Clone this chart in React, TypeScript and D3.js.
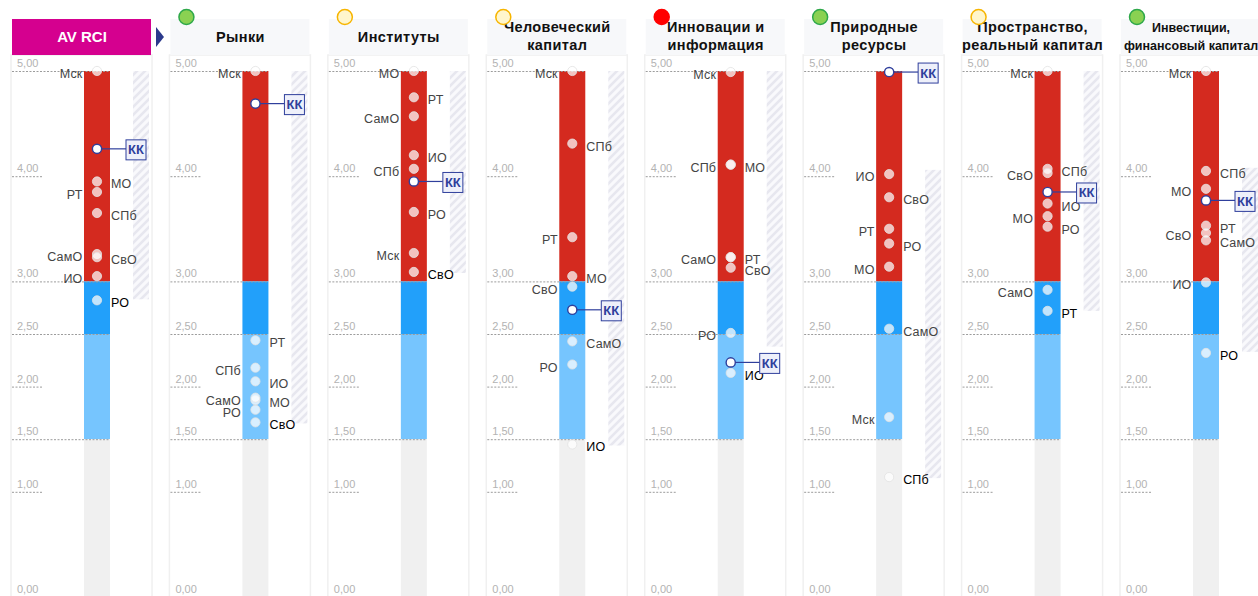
import React from "react";
import * as d3 from "d3";

// ---------- data ----------
const regionNames = ["Мск", "СПб", "МО", "РТ", "СамО", "СвО", "ИО", "РО"];

const avRci = [5.0, 3.65, 3.95, 3.85, 3.26, 3.23, 3.05, 2.82];
const markets = [5.0, 2.18, 1.87, 2.44, 1.895, 1.66, 2.05, 1.78];
const institutions = [3.27, 4.07, 5.0, 4.75, 4.57, 3.09, 4.2, 3.66];
const humanCapital = [5.0, 4.31, 3.05, 3.42, 2.43, 2.95, 1.45, 2.21];
const innovation = [4.99, 4.11, 4.11, 3.23, 3.23, 3.13, 2.13, 2.51];
const naturalRes = [1.71, 1.14, 3.14, 3.5, 2.55, 3.8, 4.02, 3.36];
const spaceCapital = [5.0, 4.07, 3.62, 2.72, 2.92, 4.03, 3.74, 3.52];
const investment = [5.0, 4.05, 3.88, 3.53, 3.39, 3.46, 2.99, 2.32];

const kkValues = [4.26, 4.69, 3.95, 2.73, 2.23, 4.99, 3.85, 3.77];
const kkLabel = "КК";

const panelTitles = [
  ["AV RCI"],
  ["Рынки"],
  ["Институты"],
  ["Человеческий", "капитал"],
  ["Инновации и", "информация"],
  ["Природные", "ресурсы"],
  ["Пространство,", "реальный капитал"],
  ["Инвестиции,", "финансовый капитал"],
];
const panelStatus = [null, "green", "yellow", "yellow", "red", "green", "yellow", "green"];

const rangeTop = [5.0, 5.0, 5.0, 5.0, 5.0, 4.06, 5.0, 4.08];
const rangeBottom = [2.83, 1.65, 3.08, 1.44, 2.38, 1.13, 2.72, 2.33];

const tickValues = [5, 4, 3, 2.5, 2, 1.5, 1, 0];
const bandEdges = [5, 3, 2.5, 1.5, 0];

// label side per panel (layout), same order as regionNames
const labelSides = [
  ["l", "r", "r", "l", "l", "r", "l", "r"],
  ["l", "l", "r", "r", "l", "r", "r", "l"],
  ["l", "l", "l", "r", "l", "r", "r", "r"],
  ["l", "r", "r", "l", "r", "l", "r", "l"],
  ["l", "l", "r", "r", "l", "r", "r", "l"],
  ["l", "r", "l", "l", "r", "r", "l", "r"],
  ["l", "r", "l", "r", "l", "l", "r", "r"],
  ["l", "r", "l", "r", "r", "l", "l", "r"],
];

const panelValues = [avRci, markets, institutions, humanCapital, innovation, naturalRes, spaceCapital, investment];

// ---------- styles ----------
const bandColors = ["#d42a1f", "#22a0fa", "#76c5fe", "#f0f0f0"];
const statusStyle: Record<string, { fill: string; stroke: string }> = {
  green: { fill: "#8ad152", stroke: "#2ea84a" },
  yellow: { fill: "#fff6cc", stroke: "#f7b500" },
  red: { fill: "#ff0000", stroke: "#ff0000" },
};
const NAVY = "#2f3f9c";
const FONT = "'Liberation Sans', Arial, sans-serif";

export default function App() {
  const W = 1258;
  const H = 596;
  const y = d3.scaleLinear().domain([0, 5]).range([597, 71]);
  const px = d3.scaleLinear().domain([0, 7]).range([12, 1121]);
  const fmt = (v: number) => d3.format(".2f")(v).replace(".", ",");

  return (
    <svg
      width={W}
      height={H}
      style={{ position: "absolute", left: 0, top: 0, fontFamily: FONT, background: "#fff" }}
    >
      <defs>
        <pattern id="hatch" width="8" height="8" patternUnits="userSpaceOnUse">
          <rect width="8" height="8" fill="#f9f9fc" />
          <path d="M-2,2 l4,-4 M0,8 l8,-8 M6,10 l4,-4" stroke="#e7e7ef" strokeWidth="2.6" />
        </pattern>
      </defs>

      {panelValues.map((vals, pi) => {
        const L = px(pi);
        const barX = L + 72;
        const barW = 26;
        const cx = barX + barW / 2;
        const minV = d3.min(vals) as number;
        const title = panelTitles[pi];
        const first = pi === 0;
        const st = panelStatus[pi];
        const titleSize = pi === 7 ? 12.5 : first ? 15 : 14.5;
        return (
          <g key={pi}>
            {/* body */}
            <rect x={L - 1} y={55} width={141} height={H - 55 + 5} fill="#fff" stroke="#f0f0f0" strokeWidth={1.5} />
            {/* header */}
            <rect x={L} y={19} width={139} height={36} fill={first ? "#d5008f" : "#f7f8fa"} />
            {title.map((t, ti) => (
              <text
                key={ti}
                x={L + 70}
                y={title.length === 1 ? 42 : 32 + ti * 18}
                textAnchor="middle"
                fontWeight="bold"
                fontSize={titleSize}
                letterSpacing={first || pi === 7 ? 0 : 0.4}
                fill={first ? "#fff" : "#111"}
              >
                {t}
              </text>
            ))}
            {st && (
              <circle cx={L + 16} cy={17} r={7.5} fill={statusStyle[st].fill} stroke={statusStyle[st].stroke} strokeWidth={1.5} />
            )}

            {/* range hatch */}
            <rect x={L + 121} y={y(rangeTop[pi])} width={16} height={y(rangeBottom[pi]) - y(rangeTop[pi])} fill="url(#hatch)" />

            {/* bar bands */}
            {bandEdges.slice(0, -1).map((e, bi) => (
              <rect key={bi} x={barX} y={y(e)} width={barW} height={y(bandEdges[bi + 1]) - y(e)} fill={bandColors[bi]} />
            ))}

            {/* ticks */}
            {tickValues.map((t) => {
              const long = bandEdges.includes(t) && t !== 0;
              return (
                <g key={t}>
                  <line
                    x1={L}
                    x2={long ? barX + barW : L + 31}
                    y1={y(t) + 0.5}
                    y2={y(t) + 0.5}
                    stroke="#9c9c9c"
                    strokeWidth={1}
                    strokeDasharray="2,1.5"
                  />
                  <text x={L + 5} y={y(t) - 4} fontSize={11} fill="#b3b3b3">
                    {fmt(t)}
                  </text>
                </g>
              );
            })}

            {/* region dots */}
            {vals.map((v, ri) => (
              <circle key={ri} cx={cx} cy={y(v)} r={4.6} fill="#fff" fillOpacity={0.72} stroke="#e2e2e2" strokeWidth={0.8} />
            ))}
            {vals.map((v, ri) => {
              const side = labelSides[pi][ri];
              return (
                <text
                  key={"l" + ri}
                  x={side === "l" ? barX - 1.5 : barX + barW + 1}
                  y={y(v) + 7}
                  textAnchor={side === "l" ? "end" : "start"}
                  fontSize={12.5}
                  letterSpacing={0.2}
                  fill={v === minV ? "#000" : "#444"}
                >
                  {regionNames[ri]}
                </text>
              );
            })}

            {/* KK */}
            <line x1={cx} x2={L + 114} y1={y(kkValues[pi])} y2={y(kkValues[pi])} stroke={NAVY} strokeWidth={1.2} />
            <circle cx={cx} cy={y(kkValues[pi])} r={4.6} fill="#fff" stroke={NAVY} strokeWidth={1.4} />
            <rect x={L + 114} y={y(kkValues[pi]) - 9} width={20} height={20} fill="#eef0fa" stroke={NAVY} strokeWidth={1} />
            <text
              x={L + 124}
              y={y(kkValues[pi]) + 5.5}
              textAnchor="middle"
              fontSize={13}
              fontWeight="bold"
              fill={NAVY}
            >
              {kkLabel}
            </text>
          </g>
        );
      })}

      {/* arrow after AV RCI */}
      <path d="M156,27 L164,37 L156,47 Z" fill="#2b3a8c" />
    </svg>
  );
}
